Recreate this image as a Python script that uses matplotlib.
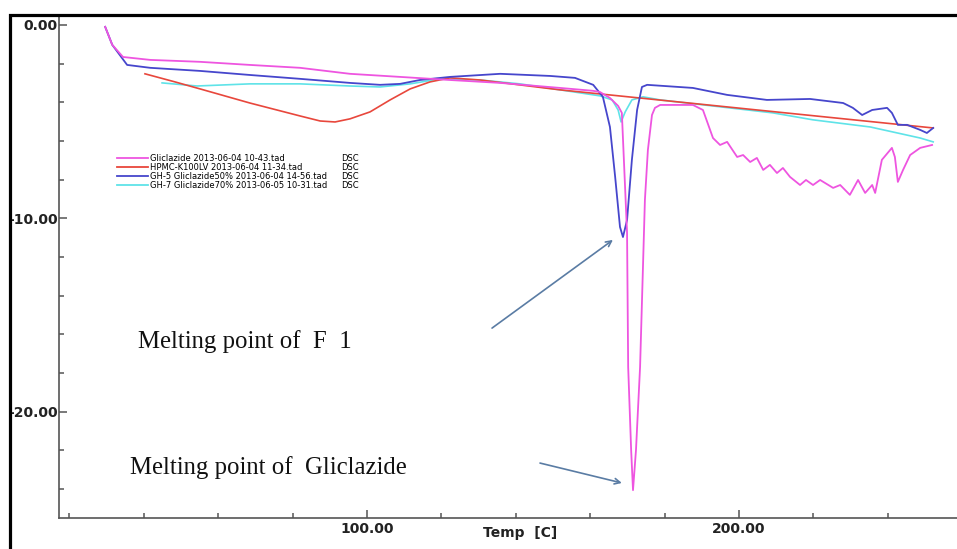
import matplotlib.pyplot as plt
from matplotlib.lines import Line2D
from matplotlib.patches import Rectangle
from matplotlib.ticker import MultipleLocator, FormatStrFormatter

# DSC traces, temperature [C] vs heat flow
glic_t = [29.6, 31.5, 34.4, 41.7, 55.1, 68.5, 82.0, 95.4, 108.9, 122.3, 135.8, 151.9,
          160.8, 162.6, 165.3, 167.5, 168.5, 169.9, 170.2, 171.0, 171.5, 172.3, 173.4,
          174.7, 175.5, 176.6, 177.4, 178.8, 187.6, 190.3, 193.0, 194.9, 196.8, 199.5,
          201.1, 203.0, 204.8, 206.5, 208.3, 210.2, 211.8, 213.7, 216.4, 218.0, 219.9,
          221.8, 225.3, 227.2, 229.8, 232.0, 233.9, 235.8, 236.6, 238.4, 241.1, 241.9,
          242.7, 244.1, 246.0, 248.7, 251.9]
glic_v = [-0.10, -1.03, -1.66, -1.81, -1.91, -2.07, -2.22, -2.53, -2.69, -2.85, -3.00, -3.26,
          -3.41, -3.47, -3.78, -4.19, -4.55, -10.76, -17.69, -21.99, -24.06, -21.99, -17.69,
          -9.05, -6.47, -4.66, -4.29, -4.14, -4.14, -4.40, -5.85, -6.21, -6.05, -6.83,
          -6.73, -7.09, -6.88, -7.50, -7.24, -7.66, -7.40, -7.86, -8.28, -8.02, -8.28,
          -8.02, -8.43, -8.28, -8.79, -8.02, -8.69, -8.28, -8.69, -6.98, -6.36, -6.83,
          -8.12, -7.50, -6.73, -6.36, -6.21]

hpmc_t = [40.3, 48.4, 55.1, 68.5, 82.0, 87.4, 91.4, 95.4, 100.8, 106.2, 111.6, 116.9,
          122.3, 130.4, 151.9, 252.2]
hpmc_v = [-2.53, -2.95, -3.31, -4.04, -4.71, -4.97, -5.02, -4.86, -4.50, -3.88, -3.31, -2.95,
          -2.74, -2.85, -3.36, -5.33]

gh5_t = [29.6, 31.5, 35.5, 41.7, 55.1, 68.5, 82.0, 95.4, 103.5, 108.9, 114.2, 122.3, 135.8,
         149.2, 155.9, 160.8, 163.4, 165.3, 166.7, 168.0, 168.8, 169.9, 171.2, 172.6, 173.9,
         175.3, 187.6, 196.8, 207.5, 219.1, 228.0, 230.6, 233.1, 235.8, 239.8, 241.1, 242.7,
         245.2, 248.7, 250.5, 252.2]
gh5_v = [-0.10, -1.03, -2.07, -2.22, -2.38, -2.59, -2.79, -3.00, -3.10, -3.05, -2.85, -2.69, -2.53,
         -2.64, -2.74, -3.10, -3.72, -5.28, -7.86, -10.45, -10.97, -10.09, -6.98, -4.40, -3.21,
         -3.10, -3.26, -3.62, -3.88, -3.83, -4.04, -4.29, -4.66, -4.40, -4.29, -4.55, -5.17,
         -5.17, -5.43, -5.59, -5.33]

gh7_t = [44.9, 54.3, 68.5, 82.0, 95.4, 103.5, 111.6, 119.6, 130.4, 141.1, 151.9, 162.6,
         165.9, 167.5, 168.3, 169.4, 171.2, 174.2, 178.8, 209.1, 219.9, 235.3, 248.7, 252.2]
gh7_v = [-3.00, -3.16, -3.05, -3.05, -3.16, -3.21, -3.05, -2.79, -2.85, -3.05, -3.36, -3.67,
         -3.88, -4.40, -5.02, -4.50, -3.88, -3.72, -3.88, -4.55, -4.91, -5.28, -5.85, -6.05]

labels = ["Gliclazide 2013-06-04 10-43.tad",
          "HPMC-K100LV 2013-06-04 11-34.tad",
          "GH-5 Gliclazide50% 2013-06-04 14-56.tad",
          "GH-7 Gliclazide70% 2013-06-05 10-31.tad"]
colors = ["#ee55e0", "#e8473c", "#4646cc", "#5fe3e8"]

fig = plt.figure(figsize=(9.57, 5.49), dpi=100)
ax = fig.add_axes([0.0617, 0.0565, 0.9383, 0.9126])

ax.plot(gh7_t, gh7_v, color=colors[3], lw=1.2, zorder=2)
ax.plot(hpmc_t, hpmc_v, color=colors[1], lw=1.2, zorder=3)
ax.plot(gh5_t, gh5_v, color=colors[2], lw=1.3, zorder=4)
ax.plot(glic_t, glic_v, color=colors[0], lw=1.3, zorder=5)

ax.set_xlim(17.2, 258.6)
ax.set_ylim(-25.5, 0.41)

for s in ["top", "right"]:
    ax.spines[s].set_visible(False)
for s in ["left", "bottom"]:
    ax.spines[s].set_color("#555555")
    ax.spines[s].set_linewidth(1.2)

ax.xaxis.set_major_locator(MultipleLocator(100))
ax.xaxis.set_minor_locator(MultipleLocator(20))
ax.yaxis.set_major_locator(MultipleLocator(10))
ax.yaxis.set_minor_locator(MultipleLocator(2))
ax.xaxis.set_major_formatter(FormatStrFormatter("%.2f"))
ax.yaxis.set_major_formatter(FormatStrFormatter("%.2f"))
ax.tick_params(which="both", direction="in", color="#555555", width=1.1)
ax.tick_params(which="major", length=6)
ax.tick_params(which="minor", length=3.5)
ax.tick_params(axis="x", which="major", pad=3)
ax.tick_params(axis="y", which="major", pad=1)
for lab in ax.get_xticklabels() + ax.get_yticklabels():
    lab.set_fontfamily("DejaVu Sans")
    lab.set_fontweight("bold")
    lab.set_fontsize(10)
    lab.set_color("#222222")

ax.set_xlabel("Temp  [C]", fontsize=10, fontweight="bold", color="#222222")
ax.xaxis.set_label_coords(0.513, -0.017)

# legend: line + file name, then a "DSC" column
handles = [Line2D([], [], color=c, lw=1.3) for c in colors]
blanks = [Line2D([], [], lw=0) for c in colors]
fig.legend(handles + blanks, labels + ["DSC"] * 4, ncol=2,
           loc="upper left", bbox_to_anchor=(117 / 957, 1 - 154 / 549),
           frameon=False, borderpad=0, borderaxespad=0,
           handlelength=3.7, handletextpad=0.25, labelspacing=0.0,
           columnspacing=-2.3, prop={"family": "DejaVu Sans", "size": 6})

arrow_col = "#5a7ca4"
ax.annotate("", xy=(166.1, -11.12), xytext=(133.6, -15.68),
            arrowprops=dict(arrowstyle="->", color=arrow_col, lw=1.2,
                            shrinkA=0, shrinkB=0, mutation_scale=10))
ax.annotate("", xy=(168.5, -23.69), xytext=(146.5, -22.66),
            arrowprops=dict(arrowstyle="->", color=arrow_col, lw=1.2,
                            shrinkA=0, shrinkB=0, mutation_scale=10))

fig.text(138 / 957, 1 - 348 / 549, "Melting point of  F  1", family="Liberation Serif",
         fontsize=17.8, va="baseline", ha="left", color="#111111")
fig.text(130 / 957, 1 - 474 / 549, "Melting point of  Gliclazide", family="Liberation Serif",
         fontsize=17.8, va="baseline", ha="left", color="#111111")

# outer black frame around the screenshot
fig.patches.append(Rectangle((10 / 957, -0.1), 1.2, 1 - 15 / 549 + 0.1,
                             transform=fig.transFigure, fill=False,
                             edgecolor="black", lw=2.3, zorder=10))

fig.savefig("out.png", dpi=100)
